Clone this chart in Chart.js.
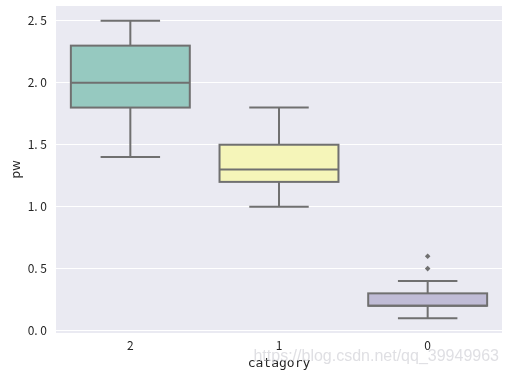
<!DOCTYPE html>
<html><head><meta charset="utf-8">
<script src="https://cdn.jsdelivr.net/npm/chart.js@4.4.0/dist/chart.umd.min.js"></script>
<style>html,body{margin:0;padding:0;background:#fff;}#wrap{width:508px;height:377px;}</style>
</head><body><div id="wrap"><canvas id="c" width="508" height="377"></canvas></div>
<script>
const categories = ['2', '1', '0'];
const whiskerLow = [1.4, 1.0, 0.1];
const q1 = [1.8, 1.2, 0.2];
const median = [2.0, 1.3, 0.2];
const q3 = [2.3, 1.5, 0.3];
const whiskerHigh = [2.5, 1.8, 0.4];
const outliersA = [null, null, 0.5];
const outliersB = [null, null, 0.6];
const yTicks = [0.0, 0.5, 1.0, 1.5, 2.0, 2.5];
const boxColors = ['#96c9c0', '#f5f5b9', '#c0bcd6'];
const LINE = '#707070';
const FONT = '"Noto Sans CJK SC", "DejaVu Sans", sans-serif';

const boxPlugin = {
  id: 'boxExtras',
  beforeDraw(chart) {
    const {ctx, chartArea: a} = chart;
    ctx.save();
    ctx.fillStyle = '#eaeaf2';
    ctx.fillRect(a.left, a.top, a.right - a.left, a.bottom - a.top);
    ctx.restore();
  },
  afterDatasetsDraw(chart) {
    const {ctx, scales: {x, y}} = chart;
    const meta = chart.getDatasetMeta(0);
    ctx.save();
    ctx.strokeStyle = LINE;
    ctx.lineWidth = 2;
    categories.forEach((c, i) => {
      const bar = meta.data[i];
      const cx = x.getPixelForValue(i);
      const half = bar.width / 2;
      const capHalf = half / 2;
      const yq1 = y.getPixelForValue(q1[i]);
      const yq3 = y.getPixelForValue(q3[i]);
      ctx.strokeRect(cx - half, yq3, half * 2, yq1 - yq3);
      ctx.beginPath();
      ctx.moveTo(cx - half, y.getPixelForValue(median[i]));
      ctx.lineTo(cx + half, y.getPixelForValue(median[i]));
      ctx.moveTo(cx, yq3);
      ctx.lineTo(cx, y.getPixelForValue(whiskerHigh[i]));
      ctx.moveTo(cx, yq1);
      ctx.lineTo(cx, y.getPixelForValue(whiskerLow[i]));
      ctx.moveTo(cx - capHalf, y.getPixelForValue(whiskerHigh[i]));
      ctx.lineTo(cx + capHalf, y.getPixelForValue(whiskerHigh[i]));
      ctx.moveTo(cx - capHalf, y.getPixelForValue(whiskerLow[i]));
      ctx.lineTo(cx + capHalf, y.getPixelForValue(whiskerLow[i]));
      ctx.stroke();
    });
    ctx.restore();
  },
  afterDraw(chart) {
    const {ctx} = chart;
    ctx.save();
    ctx.font = '16px "Liberation Sans", Arial, sans-serif';
    ctx.fillStyle = 'rgba(210,210,215,0.7)';
    ctx.textAlign = 'right';
    ctx.textBaseline = 'middle';
    ctx.fillText('https://blog.csdn.net/qq_39949963', 499, 357);
    ctx.restore();
  }
};

new Chart(document.getElementById('c'), {
  type: 'bar',
  data: {
    labels: categories,
    datasets: [
      {
        type: 'bar',
        data: categories.map((c, i) => [q1[i], q3[i]]),
        backgroundColor: boxColors,
        borderWidth: 0,
        barPercentage: 0.8,
        categoryPercentage: 1.0
      },
      {
        type: 'line',
        data: outliersA,
        showLine: false,
        pointStyle: 'rectRot',
        pointRadius: 2.8,
        backgroundColor: LINE,
        borderColor: LINE,
        borderWidth: 0
      },
      {
        type: 'line',
        data: outliersB,
        showLine: false,
        pointStyle: 'rectRot',
        pointRadius: 2.8,
        backgroundColor: LINE,
        borderColor: LINE,
        borderWidth: 0
      }
    ]
  },
  options: {
    responsive: false,
    animation: false,
    events: [],
    layout: {padding: {top: 6, right: 6, left: 0, bottom: 0}},
    plugins: {legend: {display: false}, tooltip: {enabled: false}},
    scales: {
      x: {
        grid: {display: false, drawTicks: false},
        border: {display: false},
        ticks: {color: '#262626', font: {family: FONT, size: 12}, padding: 5},
        title: {display: true, text: 'catagory', color: '#262626', font: {family: '"DejaVu Sans Mono", monospace', size: 13}, padding: {top: 0, bottom: 6}},
        afterFit(s) { s.height = 44; s.paddingLeft = 0; s.paddingRight = 0; }
      },
      y: {
        min: -0.02,
        max: 2.62,
        afterBuildTicks(s) { s.ticks = yTicks.map(v => ({value: v})); },
        grid: {color: '#ffffff', lineWidth: 1, drawTicks: false},
        border: {display: false},
        ticks: {color: '#262626', font: {family: FONT, size: 12}, padding: 9,
          callback: v => v.toFixed(1).replace('.', '. ')},
        title: {display: true, text: 'pw', color: '#262626', font: {family: FONT, size: 13}, padding: {top: 7, bottom: 0}},
        afterFit(s) { s.width = 56; s.paddingTop = 0; s.paddingBottom = 0; }
      }
    }
  },
  plugins: [boxPlugin]
});
</script>
</body></html>
